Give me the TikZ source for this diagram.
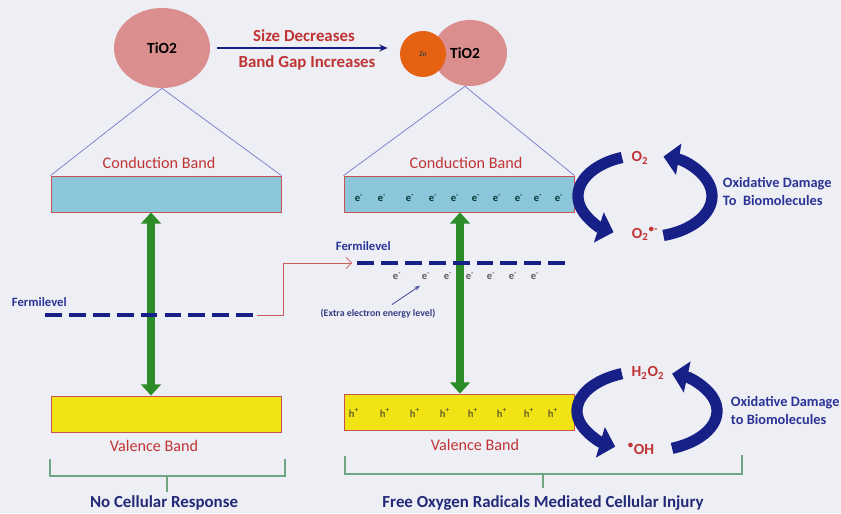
\documentclass[tikz,border=0pt]{standalone}
\usepackage{fontspec}
\setmainfont{Carlito}
\usepackage{xcolor}
\usepackage{tikz}
\usetikzlibrary{shapes.geometric, arrows.meta, positioning, calc}

\definecolor{paper}{RGB}{238,238,245}
\definecolor{tiopink}{RGB}{218,142,142}
\definecolor{znorange}{RGB}{228,98,18}
\definecolor{cbblue}{RGB}{140,198,218}
\definecolor{vbyellow}{RGB}{242,228,20}
\definecolor{gapgreen}{RGB}{44,140,40}
\definecolor{navy}{RGB}{22,32,135}
\definecolor{labred}{RGB}{192,52,52}
\definecolor{labblue}{RGB}{42,52,150}
\definecolor{conepurple}{RGB}{120,120,205}
\definecolor{bracegreen}{RGB}{110,165,130}

\begin{document}
\begin{tikzpicture}[
    x=0.025cm, y=-0.025cm,
    particle/.style={
        ellipse,
        fill=tiopink,
        font=\bfseries\fontsize{11}{12}\selectfont
    },
    band/.style={
        rectangle,
        draw=labred!85,
        line width=0.6pt,
        minimum width=5.75cm,
        minimum height=0.9cm
    },
    bandlabel/.style={text=labred, font=\fontsize{11.5}{12}\selectfont},
    cause/.style={text=labred, font=\bfseries\fontsize{12}{14}\selectfont},
    fermitext/.style={text=labblue, font=\bfseries\fontsize{9}{10}\selectfont, anchor=west},
    fermi/.style={draw=navy, line width=3pt, dash pattern=on 12pt off 5pt},
    electron/.style={text=teal!40!black, font=\bfseries\fontsize{7.5}{7}\selectfont, inner sep=0pt},
    hole/.style={text=olive!60!black, font=\bfseries\fontsize{7.5}{7}\selectfont, inner sep=0pt},
    species/.style={text=labred, font=\bfseries\fontsize{11}{12}\selectfont},
    damage/.style={text=labblue, font=\bfseries\fontsize{10.2}{12.8}\selectfont, align=left, anchor=west},
    outcome/.style={text=labblue!80!black, font=\bfseries\fontsize{12}{14}\selectfont},
    cone/.style={draw=conepurple, line width=0.5pt},
    gaparrow/.style={draw=gapgreen, line width=5.5pt,
        {Triangle[length=8pt,width=14pt]}-{Triangle[length=8pt,width=14pt]}},
    sizearrow/.style={draw=navy, line width=1pt, -{Stealth[length=6pt,width=5pt]}},
    shiftarrow/.style={draw=labred!80, line width=0.5pt, -{Straight Barb[length=4pt]}},
    pointer/.style={draw=navy!80, line width=0.6pt, -{Stealth[length=4pt]}},
    cycarrow/.style={draw=navy, line width=8pt, -{Triangle[length=11pt,width=22pt]}},
    curly/.style={draw=bracegreen, line width=0.8pt}
]

% Background
\useasboundingbox (0,0) rectangle (841,513);
\fill[paper] (0,0) rectangle (841,513);

% Particles
\node (tioL) [particle, minimum width=2.4cm, minimum height=2cm] at (162,48) {TiO2};
\node (tioR) [particle, minimum width=1.85cm, minimum height=1.65cm] at (470,53) {};
\node (zn) [circle, fill=znorange, minimum size=1.15cm,
    font=\bfseries\fontsize{5}{5}\selectfont, text=black!75] at (423,54) {Zn};
\node (tioRtxt) [font=\bfseries\fontsize{11}{12}\selectfont] at (465,53) {TiO2};

% Size change
\draw[sizearrow, shorten <=0.18cm, shorten >=0.3cm] (tioL.east) -- (tioL.east -| zn.west);
\node (sizetxt) [cause] at (304,36) {Size Decreases};
\node (gaptxt) [cause] at (307,63) {Band Gap Increases};

% Bands
\node (cbL) [band, fill=cbblue] at (166,194) {};
\node (cbR) [band, fill=cbblue] at (459,194) {};
\node (vbL) [band, fill=vbyellow] at (166,414) {};
\node (vbR) [band, fill=vbyellow] at (459,412) {};

\node (cbLtxt) [bandlabel] at (159,163) {Conduction Band};
\node (cbRtxt) [bandlabel] at (466,163) {Conduction Band};
\node (vbLtxt) [bandlabel] at (154,446) {Valence Band};
\node (vbRtxt) [bandlabel] at (475,445) {Valence Band};

\draw[cone] (cbL.north west) -- (tioL.south) -- (cbL.north east);
\draw[cone] (cbR.north west) -- ($(tioR.south)+(-5,0)$) -- (cbR.north east);

% Band gap
\coordinate (gapL) at (151,0);
\coordinate (gapR) at (460,0);
\draw[gaparrow] (cbL.south -| gapL) -- (vbL.north -| gapL);
\draw[gaparrow] (cbR.south -| gapR) -- (vbR.north -| gapR);

% Fermi levels
\coordinate (fLa) at (45,315);
\coordinate (fLb) at (257,315);
\coordinate (fRa) at (357,263);
\coordinate (fRb) at (570,263);
\draw[fermi] (fLa) -- (fLb);
\draw[fermi] (fRa) -- (fRb);
\node (fLtxt) [fermitext] at (7,302) {Fermilevel};
\node (fRtxt) [fermitext] at (331,246) {Fermilevel};
\draw[shiftarrow] (fLb) -- ++(26,0) |- ([xshift=-0.12cm]fRa);

% Electrons and holes
\foreach \x [count=\i] in {397,426,448,470,491,513,535}
    \node (xe\i) [electron, text=gray!70!black] at (\x,276) {e\textsuperscript{-}};
\foreach \x [count=\i] in {359,382,410,433,455,476,497,519,538,559}
    \node (ce\i) [electron] at (\x,198) {e\textsuperscript{-}};
\foreach \x [count=\i] in {354,385,415,445,473,502,529,553}
    \node (h\i) [hole] at (\x,413) {h\textsuperscript{+}};

\node (extratxt) [text=navy!70!gray, font=\bfseries\fontsize{7}{8}\selectfont]
    at (378,314) {(Extra electron energy level)};
\draw[pointer] ([xshift=0.35cm]extratxt.north) -- ([xshift=-0.15cm,yshift=-0.15cm]xe2.south);

% Superoxide cycle
\coordinate (cyc1) at (645,196);
\draw[cycarrow] ($(cyc1)+(250:67 and 41)$) arc[start angle=250, end angle=118, x radius=67, y radius=41];
\draw[cycarrow] ($(cyc1)+(74:67 and 41)$) arc[start angle=74, end angle=-74, x radius=67, y radius=41];
\node (o2) [species] at (640,158) {O\textsubscript{2}};
\node (o2r) [species] at (645,234) {O\textsubscript{2}\textsuperscript{•-}};
\node (dmg1) [damage] at (718,192) {Oxidative Damage\\To\ \ Biomolecules};

% Hydroxyl cycle
\coordinate (cyc2) at (647,411);
\draw[cycarrow] ($(cyc2)+(249:70 and 40)$) arc[start angle=249, end angle=117, x radius=70, y radius=40];
\draw[cycarrow] ($(cyc2)+(69:70 and 40)$) arc[start angle=69, end angle=-69, x radius=70, y radius=40];
\node (h2o2) [species] at (648,373) {H\textsubscript{2}O\textsubscript{2}};
\node (oh) [species] at (641,449) {\textsuperscript{•}OH};
\node (dmg2) [damage] at (726,411) {Oxidative Damage\\to Biomolecules};

% Braces
\draw[curly] (50,459) |- (167,476) -- (167,492);
\draw[curly] (167,476) -| (285,459);
\draw[curly] (345,456) |- (543,474) -- (543,488);
\draw[curly] (543,474) -| (742,455);

\node (noresp) [outcome] at (164,503) {No Cellular Response};
\node (injury) [outcome] at (543,503) {Free Oxygen Radicals Mediated Cellular Injury};

\end{tikzpicture}
\end{document}
